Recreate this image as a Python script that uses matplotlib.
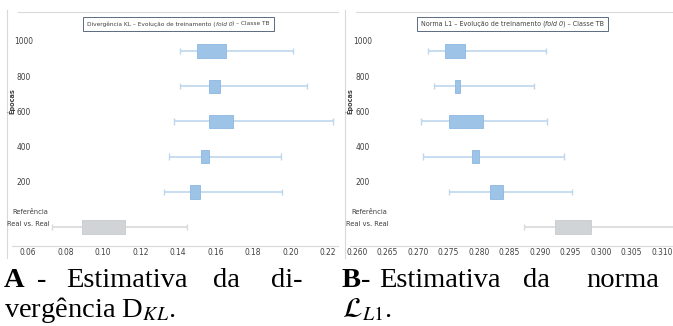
import matplotlib
matplotlib.use("Agg")
import matplotlib.pyplot as plt
from matplotlib import font_manager
from matplotlib.lines import Line2D

# categories, bottom to top
categories = ["Referência\nReal vs. Real", "200", "400", "600", "800", "1000"]

# Divergencia KL: whisker min, Q1, Q3, whisker max
kl_min = [0.0728, 0.1325, 0.1352, 0.1379, 0.1410, 0.1411]
kl_q1 = [0.0888, 0.1464, 0.1523, 0.1565, 0.1565, 0.1501]
kl_q3 = [0.1117, 0.1517, 0.1565, 0.1693, 0.1624, 0.1656]
kl_max = [0.1448, 0.1955, 0.1949, 0.2227, 0.2088, 0.2013]
kl_ticks = [0.06, 0.08, 0.10, 0.12, 0.14, 0.16, 0.18, 0.20, 0.22]
kl_ticklabels = ["0.06", "0.08", "0.10", "0.12", "0.14", "0.16", "0.18", "0.20", "0.22"]

# Norma L1
l1_min = [0.2874, 0.2751, 0.2708, 0.2705, 0.2726, 0.2716]
l1_q1 = [0.2925, 0.2818, 0.2789, 0.2751, 0.2761, 0.2744]
l1_q3 = [0.2984, 0.2839, 0.2800, 0.2807, 0.2769, 0.2777]
l1_max = [0.3125, 0.2952, 0.2939, 0.2912, 0.2890, 0.2910]
l1_ticks = [0.260, 0.265, 0.270, 0.275, 0.280, 0.285, 0.290, 0.295, 0.300, 0.305, 0.310]
l1_ticklabels = ["0.260", "0.265", "0.270", "0.275", "0.280", "0.285",
                 "0.290", "0.295", "0.300", "0.305", "0.310"]

W, H = 673, 326
SERIF = ["Liberation Serif", "DejaVu Serif"]
TXT = "#404040"
plt.rcParams["mathtext.fontset"] = "stix"

# pick a narrow sans if one is there
fonts = font_manager.fontManager.ttflist
if any(f.name == "Liberation Sans Narrow" for f in fonts):
    NARROW = dict(family="Liberation Sans Narrow")
elif any(f.name == "DejaVu Sans" and "condensed" in str(f.stretch) for f in fonts):
    NARROW = dict(family="DejaVu Sans", stretch="condensed")
else:
    NARROW = dict(family="Liberation Sans")

fig = plt.figure(figsize=(W / 100, H / 100), dpi=100)
fig.patch.set_facecolor("white")
renderer = fig.canvas.get_renderer()


def fx(px):
    return px / W


def fy(py):
    return 1 - py / H


def line_px(x0, y0, x1, y1, color="#D9D9D9", lw=0.8):
    fig.add_artist(Line2D([fx(x0), fx(x1)], [fy(y0), fy(y1)], color=color, lw=lw,
                          transform=fig.transFigure))


def pieces_fit(xc, yp, pieces, target_w, size=6.0, **kw):
    """places text pieces side by side, centred on xc, shrunk to target_w pixels"""
    texts = [fig.text(0, fy(yp), s, style=st, va="center", ha="left", fontsize=size, **kw)
             for s, st in pieces]
    total = sum(t.get_window_extent(renderer).width for t in texts)
    if total > target_w:
        for t in texts:
            t.set_fontsize(size * target_w / total)
    widths = [t.get_window_extent(renderer).width for t in texts]
    x = xc - sum(widths) / 2
    for t, w in zip(texts, widths):
        t.set_x(fx(x))
        x += w


def draw_panel(left, right, xlim, vmin, q1, q3, vmax, ticks, ticklabels, title_head,
               title_box, label_x, border_x, epocas_x):
    ax = fig.add_axes([fx(left), fy(246), fx(right - left), (246 - 36) / H])
    ax.set_xlim(*xlim)
    ax.set_ylim(-0.54, 5.43)
    ax.axis("off")
    ax.axhline(-0.54, color="#D9D9D9", lw=0.8, clip_on=False)

    ys = list(range(len(categories)))
    for i in ys:
        wcol = "#D9D9D9" if i == 0 else "#BDD7EE"
        ax.hlines(i, vmin[i], vmax[i], color=wcol, lw=1.2, zorder=1)
        ax.vlines([vmin[i], vmax[i]], i - 0.09, i + 0.09, color=wcol, lw=1.0, zorder=1)
    ax.barh(ys[1:], [b - a for a, b in zip(q1[1:], q3[1:])], left=q1[1:], height=0.38,
            color="#9DC3E6", edgecolor="#8CB7E2", lw=0.6, zorder=2)
    ax.barh(ys[0], q3[0] - q1[0], left=q1[0], height=0.38,
            color="#D0D4D6", edgecolor="#C8CCCE", lw=0.6, zorder=2)

    for t, lab in zip(ticks, ticklabels):
        ax.text(t, -0.6, lab, ha="center", va="top", fontsize=6, color=TXT, **NARROW)

    for i, lab in enumerate(categories):
        if i == 0:
            fig.text(fx(label_x + 6), fy(212), "Referência", ha="center", va="center",
                     fontsize=5.4, color=TXT, **NARROW)
            fig.text(fx(label_x + 4), fy(224), "Real vs. Real", ha="center", va="center",
                     fontsize=5.4, color=TXT, **NARROW)
        else:
            yp = 227 - i * 35.2 - 9
            fig.text(fx(label_x), fy(yp), lab, ha="center", va="center",
                     fontsize=6, color=TXT, **NARROW)

    fig.text(fx(epocas_x), fy(101), "Épocas", rotation=90, ha="center", va="center",
             fontsize=5.2, fontweight="bold", color=TXT, **NARROW)

    x0, x1 = title_box
    pieces_fit((x0 + x1) / 2, 24,
               [(title_head + " (", "normal"), ("fold 0", "italic"),
                (") – Classe TB", "normal")],
               target_w=(x1 - x0) - 10, size=6.3, color=TXT, **NARROW)
    fig.add_artist(plt.Rectangle((fx(x0), fy(31)), fx(x1 - x0), (31 - 17) / H,
                                 fill=False, edgecolor="#5B6B80", lw=0.7,
                                 transform=fig.transFigure))

    # chart area border fragments
    line_px(border_x, 10, border_x, 258)
    line_px(border_x + 11, 12, right, 12)


draw_panel(12, 338, (0.0515, 0.2253), kl_min, kl_q1, kl_q3, kl_max, kl_ticks, kl_ticklabels,
           "Divergência KL – Evolução de treinamento", (83, 274), 24, 7, 12)
draw_panel(350, 673, (0.2589, 0.3118), l1_min, l1_q1, l1_q3, l1_max, l1_ticks, l1_ticklabels,
           "Norma L1 – Evolução de treinamento", (417, 608), 363, 345, 350)

# captions (justified by placing words)
cap = dict(fontsize=20.5, family=SERIF, color="black", va="baseline")
b1, b2 = 287, 317
fig.text(fx(4), fy(b1), "A", fontweight="bold", **cap)
fig.text(fx(37), fy(b1), "-", **cap)
fig.text(fx(66), fy(b1), "Estimativa", **cap)
fig.text(fx(213), fy(b1), "da", **cap)
fig.text(fx(271), fy(b1), "di-", **cap)
fig.text(fx(4), fy(b2), "vergência D$_{KL}$.", **cap)

tb = fig.text(fx(342), fy(b1), "B", fontweight="bold", **cap)
bw = tb.get_window_extent(renderer).width
fig.text(fx(342 + bw), fy(b1), "-", **cap)
fig.text(fx(379), fy(b1), "Estimativa", **cap)
fig.text(fx(523), fy(b1), "da", **cap)
fig.text(fx(586), fy(b1), "norma", **cap)
fig.text(fx(342), fy(b2), "$\\mathcal{L}_{L1}$.", **cap)

fig.savefig("out.png", dpi=100, facecolor="white")
